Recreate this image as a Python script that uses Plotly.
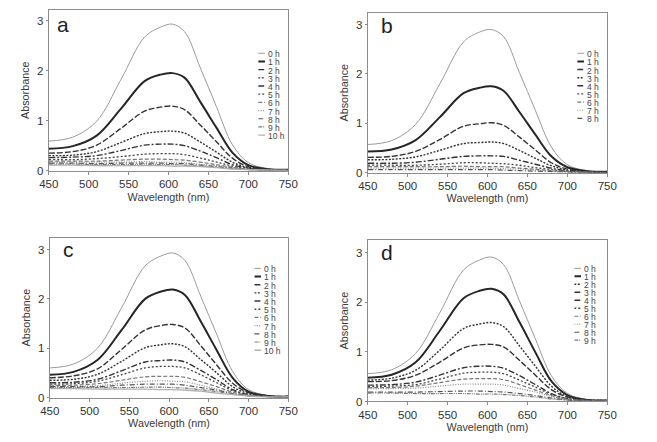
import plotly.graph_objects as go

# ---------------- data ----------------
wavelength = [450, 480, 510, 540, 570, 590, 605, 620, 640, 660, 680, 700, 725, 750]

hours_a = ["0 h", "1 h", "2 h", "3 h", "4 h", "5 h", "6 h", "7 h", "8 h", "9 h", "10 h"]
hours_b = ["0 h", "1 h", "2 h", "3 h", "4 h", "5 h", "6 h", "7 h", "8 h"]
hours_c = ["0 h", "1 h", "2 h", "3 h", "4 h", "5 h", "6 h", "7 h", "8 h", "9 h", "10 h"]
hours_d = ["0 h", "1 h", "2 h", "3 h", "4 h", "5 h", "6 h", "7 h", "8 h", "9 h"]

abs_a = [
    [0.59, 0.67, 0.99, 1.81, 2.67, 2.87, 2.93, 2.78, 2.05, 1.28, 0.52, 0.16, 0.04, 0.02],
    [0.44, 0.49, 0.70, 1.23, 1.79, 1.92, 1.95, 1.86, 1.37, 0.86, 0.36, 0.11, 0.03, 0.02],
    [0.35, 0.38, 0.51, 0.84, 1.19, 1.27, 1.29, 1.22, 0.91, 0.58, 0.25, 0.08, 0.02, 0.01],
    [0.30, 0.31, 0.38, 0.56, 0.74, 0.78, 0.79, 0.75, 0.57, 0.37, 0.17, 0.06, 0.02, 0.01],
    [0.26, 0.27, 0.30, 0.40, 0.51, 0.53, 0.53, 0.50, 0.39, 0.26, 0.12, 0.05, 0.02, 0.01],
    [0.22, 0.22, 0.24, 0.28, 0.33, 0.34, 0.34, 0.32, 0.25, 0.17, 0.09, 0.04, 0.02, 0.01],
    [0.19, 0.19, 0.19, 0.21, 0.23, 0.23, 0.22, 0.21, 0.17, 0.12, 0.07, 0.03, 0.01, 0.01],
    [0.17, 0.17, 0.17, 0.17, 0.18, 0.17, 0.17, 0.16, 0.13, 0.10, 0.06, 0.03, 0.01, 0.01],
    [0.15, 0.15, 0.14, 0.15, 0.15, 0.15, 0.14, 0.14, 0.11, 0.08, 0.05, 0.02, 0.01, 0.01],
    [0.13, 0.13, 0.12, 0.12, 0.13, 0.12, 0.12, 0.11, 0.09, 0.07, 0.04, 0.02, 0.01, 0.01],
    [0.11, 0.11, 0.10, 0.10, 0.10, 0.10, 0.09, 0.09, 0.08, 0.06, 0.03, 0.02, 0.01, 0.00],
]
abs_b = [
    [0.57, 0.65, 0.98, 1.79, 2.65, 2.85, 2.90, 2.76, 2.03, 1.26, 0.52, 0.16, 0.04, 0.02],
    [0.43, 0.47, 0.66, 1.12, 1.61, 1.72, 1.75, 1.66, 1.23, 0.77, 0.33, 0.11, 0.03, 0.02],
    [0.31, 0.33, 0.43, 0.67, 0.94, 0.99, 1.01, 0.96, 0.72, 0.46, 0.20, 0.07, 0.02, 0.01],
    [0.26, 0.27, 0.32, 0.45, 0.59, 0.61, 0.62, 0.59, 0.45, 0.29, 0.14, 0.05, 0.02, 0.01],
    [0.19, 0.19, 0.21, 0.27, 0.33, 0.34, 0.34, 0.33, 0.25, 0.17, 0.09, 0.03, 0.01, 0.01],
    [0.15, 0.15, 0.15, 0.17, 0.20, 0.20, 0.19, 0.18, 0.15, 0.10, 0.06, 0.02, 0.01, 0.01],
    [0.12, 0.12, 0.12, 0.12, 0.13, 0.12, 0.12, 0.12, 0.09, 0.07, 0.04, 0.02, 0.01, 0.00],
    [0.09, 0.09, 0.09, 0.09, 0.09, 0.09, 0.09, 0.08, 0.07, 0.05, 0.03, 0.01, 0.01, 0.00],
    [0.06, 0.06, 0.06, 0.06, 0.06, 0.06, 0.06, 0.05, 0.04, 0.03, 0.02, 0.01, 0.00, 0.00],
]
abs_c = [
    [0.60, 0.68, 1.00, 1.81, 2.67, 2.87, 2.93, 2.78, 2.05, 1.28, 0.53, 0.16, 0.04, 0.02],
    [0.46, 0.52, 0.76, 1.36, 2.00, 2.15, 2.19, 2.08, 1.54, 0.96, 0.40, 0.12, 0.03, 0.02],
    [0.40, 0.44, 0.58, 0.97, 1.37, 1.46, 1.48, 1.41, 1.05, 0.66, 0.29, 0.10, 0.03, 0.02],
    [0.35, 0.37, 0.47, 0.73, 1.01, 1.07, 1.09, 1.03, 0.77, 0.50, 0.22, 0.08, 0.02, 0.01],
    [0.30, 0.31, 0.37, 0.54, 0.72, 0.75, 0.76, 0.72, 0.55, 0.36, 0.16, 0.06, 0.02, 0.01],
    [0.27, 0.28, 0.33, 0.46, 0.60, 0.63, 0.63, 0.60, 0.46, 0.30, 0.14, 0.05, 0.02, 0.01],
    [0.25, 0.25, 0.28, 0.35, 0.42, 0.43, 0.43, 0.41, 0.32, 0.22, 0.11, 0.05, 0.02, 0.01],
    [0.23, 0.23, 0.24, 0.29, 0.33, 0.34, 0.33, 0.32, 0.25, 0.17, 0.09, 0.04, 0.02, 0.01],
    [0.22, 0.22, 0.22, 0.25, 0.27, 0.27, 0.27, 0.25, 0.20, 0.15, 0.08, 0.04, 0.02, 0.01],
    [0.20, 0.20, 0.20, 0.20, 0.21, 0.21, 0.20, 0.19, 0.16, 0.12, 0.07, 0.03, 0.01, 0.01],
    [0.18, 0.18, 0.17, 0.17, 0.17, 0.16, 0.16, 0.15, 0.13, 0.09, 0.06, 0.03, 0.01, 0.01],
]
abs_d = [
    [0.56, 0.64, 0.97, 1.78, 2.65, 2.85, 2.91, 2.76, 2.03, 1.26, 0.52, 0.16, 0.04, 0.02],
    [0.48, 0.54, 0.79, 1.42, 2.08, 2.23, 2.27, 2.16, 1.60, 0.99, 0.41, 0.13, 0.03, 0.02],
    [0.43, 0.47, 0.63, 1.03, 1.47, 1.56, 1.59, 1.51, 1.12, 0.71, 0.31, 0.10, 0.03, 0.02],
    [0.40, 0.42, 0.53, 0.79, 1.08, 1.14, 1.15, 1.10, 0.83, 0.53, 0.24, 0.09, 0.03, 0.02],
    [0.33, 0.34, 0.39, 0.53, 0.68, 0.71, 0.71, 0.67, 0.52, 0.34, 0.16, 0.06, 0.02, 0.01],
    [0.30, 0.31, 0.34, 0.45, 0.57, 0.59, 0.59, 0.56, 0.43, 0.29, 0.14, 0.06, 0.02, 0.01],
    [0.28, 0.28, 0.31, 0.38, 0.45, 0.46, 0.46, 0.44, 0.34, 0.23, 0.12, 0.05, 0.02, 0.01],
    [0.26, 0.26, 0.27, 0.31, 0.35, 0.35, 0.35, 0.33, 0.26, 0.19, 0.10, 0.04, 0.02, 0.01],
    [0.19, 0.19, 0.19, 0.20, 0.21, 0.21, 0.20, 0.19, 0.16, 0.12, 0.07, 0.03, 0.01, 0.01],
    [0.17, 0.17, 0.16, 0.16, 0.16, 0.15, 0.15, 0.14, 0.12, 0.09, 0.05, 0.03, 0.01, 0.01],
]

panel_letters = ["a", "b", "c", "d"]
x_ticks = [450, 500, 550, 600, 650, 700, 750]
y_ticks = [0, 1, 2, 3]

# ---------------- styles ----------------
S_GRAY = dict(color="#9a9a9a", width=1.0, dash="solid")
S_BOLD = dict(color="#262626", width=2.0, dash="solid")
S_LDASH = dict(color="#333333", width=1.4, dash="6px,2px")
S_DOT = dict(color="#333333", width=1.4, dash="2px,1.5px")
S_DDOT = dict(color="#333333", width=1.4, dash="6px,2px,2px,2px")
S_DOT2 = dict(color="#444444", width=1.3, dash="2px,2px")
S_DASHG = dict(color="#777777", width=1.2, dash="4px,2px")
S_DOTG = dict(color="#8a8a8a", width=1.2, dash="1px,1.5px")
S_DDOTG = dict(color="#555555", width=1.2, dash="5px,2px,1px,2px")
S_DDDOT = dict(color="#777777", width=1.2, dash="4px,1px,1px,1px,1px,1px")
S_LIGHT = dict(color="#b0b0b0", width=1.4, dash="solid")

styles_a = [S_GRAY, S_BOLD, S_LDASH, S_DOT, S_DDOT, S_DOT2, S_DASHG, S_DOTG, S_DDOTG, S_DDDOT, S_LIGHT]
styles_b = [S_GRAY, S_BOLD, S_LDASH, S_DOT, S_DDOT, S_DOT2, S_DASHG, S_DOTG, S_DDOTG]
styles_c = styles_a
styles_d = [S_GRAY, S_BOLD, S_DOT, S_LDASH, S_DDOT, S_DOT2, S_DASHG, S_DOTG, S_DDOTG, S_DDDOT]

W, H = 657, 442
# plot frames in pixels: left, right, top, bottom
frames = [(40, 287, 10, 173), (369, 616, 13, 175), (41, 287, 241, 403), (369, 616, 243, 407)]
y_tops = [3.215, 3.24, 3.24, 3.26]
# legend boxes: line left, line right, first entry center y, spacing
legend_boxes = [(256, 263, 54, 8.3), (585, 592, 54, 8.25), (252, 259, 272, 8.3), (582, 589, 272, 8.1)]
letter_pos = [(0.027, 0.91), (0.045, 0.92), (0.049, 0.928), (0.045, 0.92)]

panels = [
    (hours_a, abs_a, styles_a),
    (hours_b, abs_b, styles_b),
    (hours_c, abs_c, styles_c),
    (hours_d, abs_d, styles_d),
]

FONT = "Arial, Liberation Sans, sans-serif"
fig = go.Figure()
layout = dict(
    width=W, height=H, margin=dict(l=0, r=0, t=0, b=0),
    paper_bgcolor="white", plot_bgcolor="rgba(0,0,0,0)",
    showlegend=False, font=dict(family=FONT, color="#333333"),
    annotations=[],
)

for i, (hours, data, styles) in enumerate(panels):
    k = i + 1
    lk = i + 5
    xs = "" if k == 1 else str(k)
    l, r, t, b = frames[i]
    xdom = [l / W, r / W]
    ydom = [1 - b / H, 1 - t / H]
    for name, vals, st in zip(hours, data, styles):
        fig.add_trace(go.Scatter(
            x=wavelength, y=vals, mode="lines", name=name,
            line=dict(color=st["color"], width=st["width"], dash=st["dash"],
                      shape="spline", smoothing=1.0),
            xaxis="x" + xs, yaxis="y" + xs, hoverinfo="skip"))
    axcommon = dict(showline=True, mirror=True, linecolor="#8c8c8c", linewidth=1,
                    ticks="outside", ticklen=3, tickcolor="#8c8c8c",
                    showgrid=False, zeroline=False,
                    tickfont=dict(size=11.5, color="#333333", family=FONT))
    layout["xaxis" + xs] = dict(
        axcommon, domain=xdom, range=[450, 750], tickvals=x_ticks,
        anchor="y" + xs,
        title=dict(text="Wavelength (nm)", font=dict(size=10.8, color="#3a3a3a"), standoff=3))
    layout["yaxis" + xs] = dict(
        axcommon, domain=ydom, range=[0, y_tops[i]], tickvals=y_ticks,
        anchor="x" + xs, ticklen=2,
        title=dict(text="Absorbance", font=dict(size=10.8, color="#3a3a3a"), standoff=5))
    # panel letter
    lx, ly = letter_pos[i]
    layout["annotations"].append(dict(
        text=panel_letters[i], xref="x" + xs + " domain", yref="y" + xs + " domain",
        x=lx, y=ly, xanchor="left", yanchor="middle", showarrow=False,
        font=dict(size=21, color="#222222", family=FONT)))

    # custom compact legend on a hidden axis pair
    ll, lr, ly0, sp = legend_boxes[i]
    n = len(hours)
    top = ly0 - sp / 2
    bot = top + n * sp
    layout["xaxis%d" % lk] = dict(domain=[ll / W, lr / W], range=[0, 1], visible=False,
                                  anchor="y%d" % lk, fixedrange=True)
    layout["yaxis%d" % lk] = dict(domain=[1 - bot / H, 1 - top / H], range=[n - 0.5, -0.5],
                                  visible=False, anchor="x%d" % lk, fixedrange=True)
    for j, (name, st) in enumerate(zip(hours, styles)):
        fig.add_trace(go.Scatter(
            x=[0, 1], y=[j, j], mode="lines",
            line=dict(color=st["color"], width=st["width"], dash=st["dash"]),
            xaxis="x%d" % lk, yaxis="y%d" % lk, hoverinfo="skip"))
        layout["annotations"].append(dict(
            text=name, xref="x%d" % lk, yref="y%d" % lk, x=1, y=j,
            xanchor="left", yanchor="middle", xshift=2, yshift=-1, showarrow=False,
            borderpad=0, font=dict(size=8.5, color="#444444", family=FONT)))

fig.update_layout(**layout)
fig.write_html("out.html")
